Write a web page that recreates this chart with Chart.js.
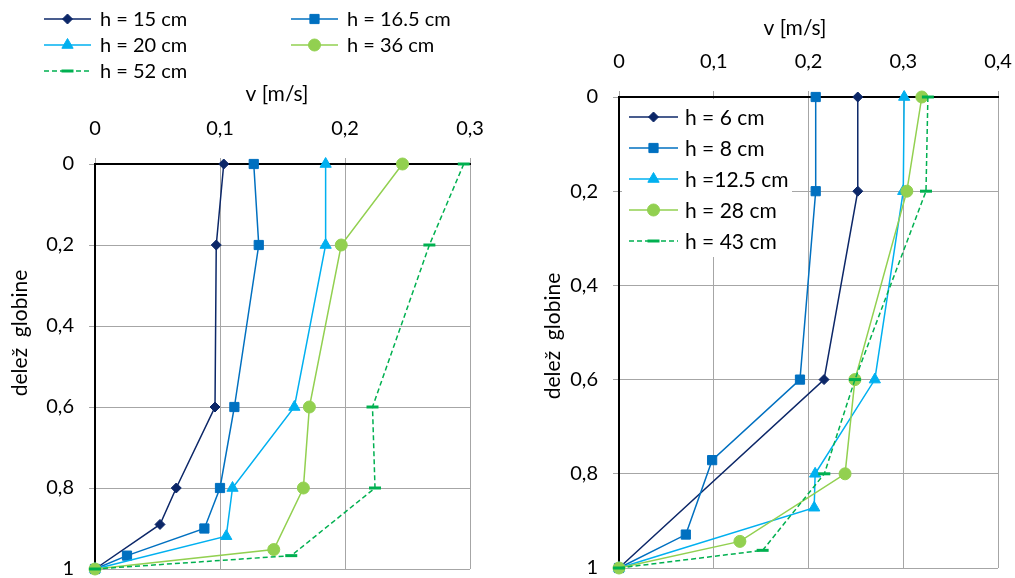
<!DOCTYPE html>
<html>
<head>
<meta charset="utf-8">
<script src="https://cdn.jsdelivr.net/npm/chart.js@4.4.1/dist/chart.umd.min.js"></script>
<style>
  html, body { margin: 0; padding: 0; background: #fff; }
  #wrap { position: relative; width: 1015px; height: 578px; overflow: hidden; }
  canvas { position: absolute; top: 0; }
  #levi { left: 0; }
  #desni { left: 510px; }
</style>
</head>
<body>
<div id="wrap">
  <canvas id="levi" width="510" height="578"></canvas>
  <canvas id="desni" width="505" height="578"></canvas>
</div>
<script>
// ---- podatki: levi graf ----
const imenaL = ['h = 15 cm', 'h = 16.5 cm', 'h = 20 cm', 'h = 36 cm', 'h = 52 cm'];
const globL15 = [0, 0.2, 0.6, 0.8, 0.89, 1];
const hitL15 = [0.103, 0.097, 0.096, 0.065, 0.052, 0];
const globL165 = [0, 0.2, 0.6, 0.8, 0.9, 0.967, 1];
const hitL165 = [0.127, 0.131, 0.1115, 0.1, 0.0875, 0.0256, 0];
const globL20 = [0, 0.2, 0.6, 0.8, 0.919, 1];
const hitL20 = [0.1845, 0.1845, 0.1595, 0.11, 0.105, 0];
const globL36 = [0, 0.2, 0.6, 0.8, 0.952, 1];
const hitL36 = [0.246, 0.197, 0.1715, 0.1667, 0.143, 0];
const globL52 = [0, 0.2, 0.6, 0.8, 0.967, 1];
const hitL52 = [0.295, 0.2675, 0.222, 0.224, 0.157, 0];
const xTickiL = [0, 0.1, 0.2, 0.3];

// ---- podatki: desni graf ----
const imenaR = ['h = 6 cm', 'h = 8 cm', 'h =12.5 cm', 'h = 28 cm', 'h = 43 cm'];
const globR6 = [0, 0.2, 0.6, 1];
const hitR6 = [0.252, 0.252, 0.2164, 0];
const globR8 = [0, 0.2, 0.6, 0.771, 0.929, 1];
const hitR8 = [0.2076, 0.2076, 0.191, 0.0983, 0.0705, 0];
const globR125 = [0, 0.2, 0.6, 0.8, 0.872, 1];
const hitR125 = [0.301, 0.3, 0.27, 0.207, 0.206, 0];
const globR28 = [0, 0.2, 0.6, 0.8, 0.9435, 1];
const hitR28 = [0.3196, 0.3038, 0.249, 0.2386, 0.1276, 0];
const globR43 = [0, 0.2, 0.6, 0.8, 0.9625, 1];
const hitR43 = [0.326, 0.324, 0.249, 0.2167, 0.1516, 0];
const xTickiR = [0, 0.1, 0.2, 0.3, 0.4];

const yTicki = [0, 0.2, 0.4, 0.6, 0.8, 1];

// slogi serij (enaki na obeh grafih)
const slogi = [
  { barva: '#0C2768', oblika: 'rectRot', r: 5 },
  { barva: '#0070C0', oblika: 'rect', r: 6.5 },
  { barva: '#00B0F0', oblika: 'triangle', r: 6.5 },
  { barva: '#92D050', oblika: 'circle', r: 6 },
  { barva: '#00B050', oblika: 'line', r: 6, crtkano: true }
];

const pisava = 'Lato, "Liberation Sans", sans-serif';
const siva = '#A6A6A6';
Chart.defaults.font.family = pisava;
Chart.defaults.color = '#000';

// decimalna vejica
function vejica(v) {
  return String(Math.round(v * 100) / 100).replace('.', ',');
}

// i = zaporedna st. serije; kasnejse serije so narisane na vrhu (kot v Excelu)
function serija(ime, xs, ys, s, i) {
  return {
    label: ime,
    data: xs.map((v, k) => ({ x: v, y: ys[k] })),
    order: 10 - i,
    showLine: true,
    borderColor: s.barva,
    borderWidth: 1.5,
    borderDash: s.crtkano ? [5, 3] : [],
    pointStyle: s.oblika,
    pointRadius: s.r,
    pointHoverRadius: s.r,
    pointBackgroundColor: s.barva,
    pointBorderColor: s.barva,
    pointBorderWidth: s.crtkano ? 3 : 1,
    clip: false
  };
}

// legenda + naslovi osi (narisano na platno)
function dodatki(nast) {
  return {
    id: 'dodatki',
    beforeDatasetsDraw(chart) {
      const ctx = chart.ctx;
      const L = nast.legenda;
      ctx.save();
      if (L.ozadje) {
        ctx.fillStyle = '#fff';
        ctx.fillRect(L.ozadje[0], L.ozadje[1], L.ozadje[2], L.ozadje[3]);
      }
      chart.data.datasets.forEach((d, i) => {
        const x0 = L.mesta[i][0], y = L.mesta[i][1];
        ctx.save();
        ctx.strokeStyle = d.borderColor;
        ctx.lineWidth = d.borderWidth;
        ctx.setLineDash(d.borderDash);
        ctx.beginPath();
        ctx.moveTo(x0, y);
        ctx.lineTo(x0 + L.dolzina, y);
        ctx.stroke();
        ctx.setLineDash([]);
        ctx.fillStyle = d.pointBackgroundColor;
        ctx.strokeStyle = d.pointBorderColor;
        ctx.lineWidth = d.pointBorderWidth;
        Chart.helpers.drawPoint(ctx, {
          pointStyle: d.pointStyle, radius: d.pointRadius, rotation: 0, borderWidth: d.pointBorderWidth
        }, x0 + L.dolzina / 2, y);
        ctx.restore();
        ctx.fillStyle = '#000';
        ctx.font = L.velikost + 'px ' + pisava;
        ctx.textBaseline = 'middle';
        ctx.textAlign = 'left';
        ctx.fillText(d.label, x0 + L.dolzina + L.razmik, y + 1);
      });
      ctx.restore();
    },
    afterDraw(chart) {
      const ctx = chart.ctx;
      const N = nast.naslovi;
      ctx.save();
      ctx.fillStyle = '#000';
      ctx.font = N.velikost + 'px ' + pisava;
      ctx.textAlign = 'center';
      ctx.textBaseline = 'middle';
      ctx.fillText('v [m/s]', N.x[0], N.x[1]);
      ctx.translate(N.y[0], N.y[1]);
      ctx.rotate(-Math.PI / 2);
      ctx.fillText('delež  globine', 0, 0);
      ctx.restore();
    }
  };
}

function opcije(xMax, xTicki, velikost, ySirina, xVisina, pad, tickPad) {
  return {
    responsive: false,
    animation: false,
    layout: { padding: pad },
    plugins: { legend: { display: false }, tooltip: { enabled: false } },
    scales: {
      x: {
        type: 'linear', position: 'top', min: 0, max: xMax,
        afterBuildTicks: s => { s.ticks = xTicki.map(v => ({ value: v })); },
        afterFit: s => { s.height = xVisina; s.paddingLeft = 0; s.paddingRight = 0; },
        ticks: { font: { size: velikost }, color: '#000', padding: tickPad, callback: v => vejica(v), maxRotation: 0 },
        grid: {
          color: c => (c.tick && c.tick.value === 0 ? 'rgba(0,0,0,0)' : siva),
          tickColor: siva, lineWidth: 1, tickLength: 6
        },
        border: { color: '#000', width: 2 }
      },
      y: {
        type: 'linear', reverse: true, min: 0, max: 1,
        afterBuildTicks: s => { s.ticks = yTicki.map(v => ({ value: v })); },
        afterFit: s => { s.width = ySirina; s.paddingTop = 0; s.paddingBottom = 0; },
        ticks: { font: { size: velikost }, color: '#000', padding: 15, callback: v => vejica(v) },
        grid: {
          color: c => (c.tick && c.tick.value === 0 ? 'rgba(0,0,0,0)' : siva),
          tickColor: siva, lineWidth: 1, tickLength: 6
        },
        border: { color: '#000', width: 2 }
      }
    }
  };
}

// levi graf
new Chart(document.getElementById('levi'), {
  type: 'scatter',
  data: {
    datasets: [
      serija(imenaL[0], hitL15, globL15, slogi[0], 0),
      serija(imenaL[1], hitL165, globL165, slogi[1], 1),
      serija(imenaL[2], hitL20, globL20, slogi[2], 2),
      serija(imenaL[3], hitL36, globL36, slogi[3], 3),
      serija(imenaL[4], hitL52, globL52, slogi[4], 4)
    ]
  },
  options: opcije(0.3, xTickiL, 20, 95, 164, { top: 0, left: 0, right: 40, bottom: 9 }, 17),
  plugins: [dodatki({
    legenda: {
      mesta: [[44, 19], [291, 19], [44, 45], [291, 45], [44, 71]],
      dolzina: 47, razmik: 9, velikost: 20
    },
    naslovi: { velikost: 21, x: [277, 94], y: [20, 333] }
  })]
});

// desni graf
new Chart(document.getElementById('desni'), {
  type: 'scatter',
  data: {
    datasets: [
      serija(imenaR[0], hitR6, globR6, slogi[0], 0),
      serija(imenaR[1], hitR8, globR8, slogi[1], 1),
      serija(imenaR[2], hitR125, globR125, slogi[2], 2),
      serija(imenaR[3], hitR28, globR28, slogi[3], 3),
      serija(imenaR[4], hitR43, globR43, slogi[4], 4)
    ]
  },
  options: opcije(0.4, xTickiR, 20, 109, 97, { top: 0, left: 0, right: 17, bottom: 10 }, 17),
  plugins: [dodatki({
    legenda: {
      ozadje: [112, 99, 170, 158],
      mesta: [[119, 117], [119, 148], [119, 179], [119, 210], [119, 241]],
      dolzina: 49, razmik: 7, velikost: 21
    },
    naslovi: { velikost: 21, x: [285, 28], y: [43, 336] }
  })]
});
</script>
</body>
</html>
